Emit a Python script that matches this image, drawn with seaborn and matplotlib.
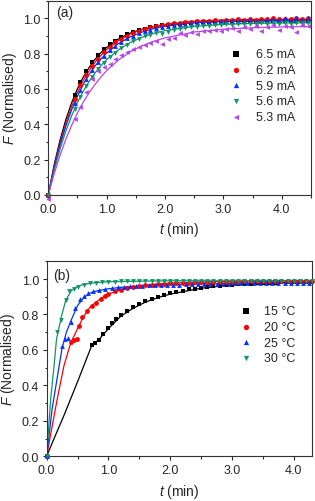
import matplotlib
matplotlib.use('Agg')
import matplotlib.pyplot as plt
import seaborn as sns
from matplotlib.ticker import MultipleLocator, FormatStrFormatter

# ---- panel (a): current series ----
t_a = [0.0, 0.45, 0.55, 0.65, 0.75, 0.85, 0.95, 1.05, 1.15, 1.25, 1.35, 1.45, 1.55, 1.65,
       1.75, 1.85, 1.95, 2.05, 2.15, 2.25, 2.35, 2.45, 2.55, 2.65, 2.75, 2.85, 2.95, 3.05,
       3.15, 3.25, 3.35, 3.45, 3.55, 3.65, 3.75, 3.85, 3.95, 4.05, 4.15, 4.25, 4.35, 4.45]
f_65 = [0.0, 0.568, 0.640, 0.700, 0.752, 0.790, 0.825, 0.852, 0.874, 0.893, 0.909, 0.921, 0.932, 0.941,
        0.949, 0.955, 0.960, 0.964, 0.967, 0.970, 0.972, 0.974, 0.976, 0.977, 0.978, 0.979, 0.980, 0.981,
        0.981, 0.982, 0.982, 0.983, 0.983, 0.984, 0.984, 0.984, 0.985, 0.985, 0.985, 0.986, 0.986, 0.986]
f_62 = [0.0, 0.545, 0.620, 0.678, 0.730, 0.771, 0.808, 0.836, 0.863, 0.884, 0.900, 0.917, 0.929, 0.938,
        0.949, 0.956, 0.960, 0.968, 0.972, 0.974, 0.979, 0.981, 0.984, 0.983, 0.987, 0.990, 0.986, 0.991,
        0.990, 0.995, 0.991, 0.997, 0.992, 0.996, 0.993, 1.000, 0.994, 0.998, 0.994, 1.002, 0.995, 0.999]
f_59 = [0.0, 0.523, 0.594, 0.655, 0.706, 0.750, 0.787, 0.818, 0.844, 0.867, 0.886, 0.902, 0.915, 0.927,
        0.936, 0.945, 0.952, 0.957, 0.962, 0.967, 0.970, 0.973, 0.976, 0.978, 0.980, 0.981, 0.983, 0.984,
        0.985, 0.986, 0.986, 0.990, 0.987, 0.992, 0.988, 0.995, 0.989, 1.000, 0.989, 1.004, 0.989, 1.002]
f_56 = [0.0, 0.487, 0.557, 0.616, 0.668, 0.711, 0.749, 0.781, 0.805, 0.833, 0.850, 0.871, 0.880, 0.898,
        0.905, 0.918, 0.912, 0.920, 0.935, 0.939, 0.944, 0.952, 0.950, 0.958, 0.955, 0.963, 0.960, 0.966,
        0.962, 0.968, 0.965, 0.970, 0.968, 0.971, 0.967, 0.972, 0.969, 0.973, 0.970, 0.973, 0.971, 0.974]
f_53 = [-0.02, 0.430, 0.500, 0.580, 0.655, 0.700, 0.725, 0.740, 0.770, 0.790, 0.810, 0.825, 0.840, 0.850,
        0.860, 0.870, 0.855, 0.880, 0.890, 0.915, 0.905, 0.920, 0.910, 0.930, 0.925, 0.935, 0.930, 0.940,
        0.945, 0.930, 0.950, 0.940, 0.955, 0.930, 0.950, 0.960, 0.935, 0.955, 0.950, 0.920, 0.960, 0.955]

# fitted curves, panel (a)
tf_a = [0.0, 0.1, 0.2, 0.3, 0.4, 0.5, 0.6, 0.7, 0.8, 0.9, 1.0, 1.2, 1.4, 1.6, 1.8, 2.0, 2.5, 3.0, 3.5, 4.0, 4.5]
fit_65 = [0.0, 0.170, 0.309, 0.426, 0.522, 0.602, 0.668, 0.722, 0.767, 0.805, 0.835, 0.883, 0.915, 0.937,
          0.952, 0.962, 0.976, 0.982, 0.984, 0.985, 0.985]
fit_62 = [0.0, 0.160, 0.295, 0.407, 0.501, 0.581, 0.648, 0.703, 0.750, 0.790, 0.823, 0.874, 0.910, 0.935,
          0.953, 0.965, 0.983, 0.990, 0.993, 0.994, 0.995]
fit_59 = [0.0, 0.152, 0.280, 0.389, 0.482, 0.559, 0.626, 0.682, 0.729, 0.769, 0.803, 0.856, 0.894, 0.921,
          0.941, 0.955, 0.975, 0.983, 0.987, 0.989, 0.990]
fit_56 = [0.0, 0.139, 0.258, 0.361, 0.448, 0.523, 0.588, 0.643, 0.690, 0.731, 0.766, 0.821, 0.862, 0.892,
          0.914, 0.930, 0.954, 0.965, 0.971, 0.973, 0.974]
fit_53 = [0.0, 0.119, 0.224, 0.315, 0.394, 0.465, 0.526, 0.579, 0.625, 0.667, 0.704, 0.763, 0.809, 0.843,
          0.869, 0.889, 0.922, 0.938, 0.946, 0.951, 0.953]

labels_a = ['6.5 mA', '6.2 mA', '5.9 mA', '5.6 mA', '5.3 mA']

# ---- panel (b): temperature series ----
t_15 = [0.0, 0.73, 0.78, 0.85, 0.92, 0.99, 1.06, 1.13, 1.2, 1.3, 1.4, 1.5, 1.6, 1.7, 1.8, 1.9, 2.0,
        2.1, 2.2, 2.3, 2.4, 2.5, 2.6, 2.7, 2.8, 2.9, 3.0, 3.1, 3.2, 3.3, 3.4, 3.5, 3.6, 3.7, 3.8,
        3.9, 4.0, 4.1, 4.2, 4.3]
f_15 = [0.0, 0.628, 0.640, 0.655, 0.690, 0.725, 0.750, 0.775, 0.795, 0.820, 0.840, 0.860, 0.875, 0.890,
        0.900, 0.910, 0.920, 0.928, 0.935, 0.941, 0.946, 0.951, 0.955, 0.959, 0.962, 0.965, 0.968, 0.970,
        0.972, 0.974, 0.976, 0.977, 0.979, 0.980, 0.981, 0.982, 0.983, 0.984, 0.985, 0.986]
t_20 = [0.0, 0.39, 0.45, 0.49, 0.53, 0.58, 0.65, 0.73, 0.8, 0.88, 0.95, 1.0, 1.1, 1.2, 1.3, 1.4, 1.5,
        1.6, 1.7, 1.8, 1.9, 2.0, 2.1, 2.2, 2.3, 2.4, 2.5, 2.6, 2.7, 2.8, 2.9, 3.0, 3.1, 3.2, 3.3,
        3.4, 3.5, 3.6, 3.7, 3.8, 3.9, 4.0, 4.1, 4.2, 4.3]
f_20 = [0.0, 0.645, 0.655, 0.660, 0.735, 0.785, 0.820, 0.850, 0.865, 0.885, 0.905, 0.915, 0.930, 0.940,
        0.950, 0.955, 0.960, 0.965, 0.968, 0.970, 0.973, 0.975, 0.977, 0.978, 0.980, 0.981, 0.982, 0.983,
        0.984, 0.985, 0.985, 0.986, 0.986, 0.987, 0.987, 0.988, 0.988, 0.988, 0.989, 0.989, 0.989, 0.990,
        0.990, 0.990, 0.990]
t_25 = [0.0, 0.25, 0.3, 0.34, 0.4, 0.46, 0.54, 0.6, 0.67, 0.75, 0.85, 0.95, 1.05, 1.15, 1.25, 1.35,
        1.45, 1.55, 1.65, 1.75, 1.85, 1.95, 2.05, 2.15, 2.25, 2.35, 2.45, 2.55, 2.65, 2.75, 2.85,
        2.95, 3.05, 3.15, 3.25, 3.35, 3.45, 3.55, 3.65, 3.75, 3.85, 3.95, 4.05, 4.15, 4.25]
f_25 = [0.0, 0.625, 0.660, 0.665, 0.760, 0.835, 0.885, 0.905, 0.920, 0.930, 0.940, 0.945, 0.950, 0.953,
        0.955, 0.958, 0.960, 0.962, 0.964, 0.965, 0.966, 0.967, 0.968, 0.969, 0.970, 0.971, 0.971, 0.972,
        0.973, 0.973, 0.974, 0.974, 0.975, 0.975, 0.976, 0.976, 0.977, 0.977, 0.977, 0.978, 0.978, 0.978,
        0.979, 0.979, 0.979]
t_30 = [0.0, 0.16, 0.24, 0.31, 0.36, 0.44, 0.5, 0.6, 0.7, 0.8, 0.9, 1.0, 1.1, 1.2, 1.3, 1.4, 1.5, 1.6,
        1.7, 1.8, 1.9, 2.0, 2.1, 2.2, 2.3, 2.4, 2.5, 2.6, 2.7, 2.8, 2.9, 3.0, 3.1, 3.2, 3.3, 3.4, 3.5,
        3.6, 3.7, 3.8, 3.9, 4.0, 4.1, 4.2, 4.3]
f_30 = [0.0, 0.700, 0.770, 0.880, 0.930, 0.945, 0.955, 0.967, 0.975, 0.980, 0.983, 0.985, 0.986, 0.987,
        0.988, 0.988, 0.989, 0.989, 0.989, 0.990, 0.990, 0.990, 0.990, 0.990, 0.990, 0.990, 0.990, 0.990,
        0.990, 0.990, 0.990, 0.990, 0.990, 0.990, 0.990, 0.990, 0.990, 0.990, 0.990, 0.990, 0.990, 0.990,
        0.990, 0.990, 0.990]

# fitted curves, panel (b)
tf_15 = [0.0, 0.12, 0.28, 0.5, 0.73, 0.85, 1.0, 1.2, 1.4, 1.6, 1.8, 2.0, 2.5, 3.0, 3.5, 4.0, 4.3]
fit_15 = [0.0, 0.10, 0.23, 0.42, 0.625, 0.66, 0.72, 0.79, 0.835, 0.87, 0.895, 0.915, 0.948, 0.967,
          0.977, 0.983, 0.985]
tf_20 = [0.0, 0.09, 0.17, 0.28, 0.39, 0.5, 0.6, 0.7, 0.8, 0.9, 1.0, 1.2, 1.4, 1.6, 1.8, 2.0, 2.5, 3.0,
         3.5, 4.0, 4.3]
fit_20 = [0.0, 0.17, 0.32, 0.51, 0.64, 0.72, 0.79, 0.84, 0.87, 0.895, 0.915, 0.94, 0.955, 0.965, 0.972,
          0.977, 0.983, 0.987, 0.989, 0.990, 0.990]
tf_25 = [0.0, 0.09, 0.17, 0.25, 0.32, 0.4, 0.5, 0.6, 0.7, 0.8, 1.0, 1.2, 1.5, 2.0, 2.5, 3.0, 3.5, 4.0, 4.3]
fit_25 = [0.0, 0.27, 0.44, 0.61, 0.70, 0.77, 0.85, 0.895, 0.92, 0.932, 0.945, 0.953, 0.960, 0.967, 0.972,
          0.975, 0.977, 0.978, 0.979]
tf_30 = [0.0, 0.065, 0.12, 0.16, 0.24, 0.31, 0.4, 0.5, 0.6, 0.8, 1.0, 1.5, 2.0, 3.0, 4.3]
fit_30 = [0.0, 0.32, 0.51, 0.66, 0.79, 0.88, 0.935, 0.958, 0.970, 0.980, 0.985, 0.988, 0.990, 0.990, 0.990]

labels_b = ['15 \u00b0C', '20 \u00b0C', '25 \u00b0C', '30 \u00b0C']

colors = ['black', '#ff0000', '#0033ff', '#119467', '#b845ea']
markers = ['s', 'o', '^', 'v', '<']

sns.set_style('ticks')
plt.rcParams['font.family'] = ['Liberation Sans', 'DejaVu Sans']
plt.rcParams['mathtext.fontset'] = 'custom'
plt.rcParams['mathtext.it'] = 'Liberation Sans:italic'
plt.rcParams['mathtext.rm'] = 'Liberation Sans'

fig = plt.figure(figsize=(3.15, 5.02), dpi=100)
ax_a = fig.add_axes([0.1533, 0.6096, 0.834, 0.3873])
ax_b = fig.add_axes([0.148, 0.089, 0.8436, 0.3885])

data_a = [(t_a, f_65, tf_a, fit_65), (t_a, f_62, tf_a, fit_62), (t_a, f_59, tf_a, fit_59),
          (t_a, f_56, tf_a, fit_56), (t_a, f_53, tf_a, fit_53)]
data_b = [(t_15, f_15, tf_15, fit_15), (t_20, f_20, tf_20, fit_20),
          (t_25, f_25, tf_25, fit_25), (t_30, f_30, tf_30, fit_30)]

for ax, data, labels in [(ax_a, data_a, labels_a), (ax_b, data_b, labels_b)]:
    for i, (tx, fy, tl, fl) in enumerate(data):
        sns.lineplot(x=tl, y=fl, color=colors[i], lw=0.9, estimator=None, sort=False, ax=ax)
        sns.scatterplot(x=tx, y=fy, color=colors[i], marker=markers[i], s=12, linewidth=0,
                        label=labels[i], ax=ax, clip_on=False, zorder=3)

for ax, xmax in [(ax_a, 4.5), (ax_b, 4.3)]:
    ax.set_xlim(0, xmax)
    ax.set_ylim(0, 1.1)
    ax.xaxis.set_major_locator(MultipleLocator(1.0))
    ax.xaxis.set_minor_locator(MultipleLocator(0.5))
    ax.yaxis.set_major_locator(MultipleLocator(0.2))
    ax.yaxis.set_minor_locator(MultipleLocator(0.1))
    ax.xaxis.set_major_formatter(FormatStrFormatter('%.1f'))
    ax.yaxis.set_major_formatter(FormatStrFormatter('%.1f'))
    ax.tick_params(which='major', direction='out', length=3, width=0.8, labelsize=9, pad=2.5)
    ax.tick_params(which='minor', direction='out', length=1.8, width=0.8)
    for sp in ax.spines.values():
        sp.set_linewidth(0.8)
        sp.set_color('#333333')
    ax.set_xlabel(r'$\mathit{t}$ (min)', fontsize=10, labelpad=4)
    ax.set_ylabel(r'$\mathit{F}$ (Normalised)', fontsize=10, labelpad=3)

ax_a.text(0.03, 0.975, '(a)', transform=ax_a.transAxes, fontsize=10, va='top', ha='left')
ax_b.text(0.025, 0.965, '(b)', transform=ax_b.transAxes, fontsize=10, va='top', ha='left')

ax_a.legend(loc='upper left', bbox_to_anchor=(0.69, 0.755), frameon=False, fontsize=9,
            handlelength=1.0, handletextpad=1.1, labelspacing=0.3, borderpad=0, borderaxespad=0,
            markerscale=1.1)
ax_b.legend(loc='upper left', bbox_to_anchor=(0.725, 0.775), frameon=False, fontsize=9,
            handlelength=1.0, handletextpad=1.0, labelspacing=0.3, borderpad=0, borderaxespad=0,
            markerscale=1.1)

fig.savefig('out.png', dpi=100)
